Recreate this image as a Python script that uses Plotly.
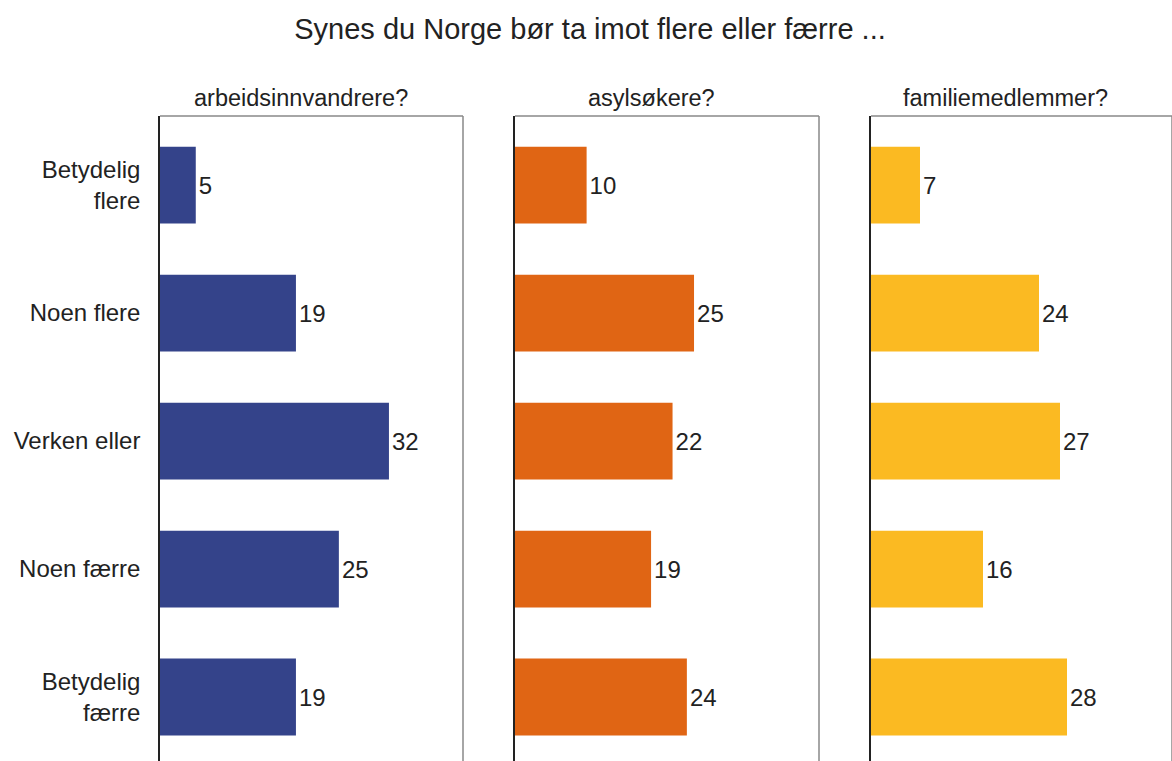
import plotly.graph_objects as go

categories = ["Betydelig<br>flere", "Noen flere", "Verken eller", "Noen færre", "Betydelig<br>færre"]
panel_titles = ["arbeidsinnvandrere?", "asylsøkere?", "familiemedlemmer?"]
arbeid = [5, 19, 32, 25, 19]
asyl = [10, 25, 22, 19, 24]
familie = [7, 24, 27, 16, 28]
series = [arbeid, asyl, familie]
colors = ["#34438A", "#E06514", "#FBBA22"]
title = "Synes du Norge bør ta imot flere eller færre ..."

W, H = 1172, 761
L, T = 160, 116
PW = W - L
domains = [(0, 303 / PW), (355 / PW, 659 / PW), (711 / PW, 1.0)]
xranges = [[0, 42.35], [0, 42.45], [0, 43.0]]
title_centers = [301, 651, 1005]

FONT = "Arial, Liberation Sans, sans-serif"
TXT = "#222222"

fig = go.Figure()
for i, (vals, col) in enumerate(zip(series, colors)):
    sfx = "" if i == 0 else str(i + 1)
    fig.add_trace(go.Bar(
        x=vals, y=categories, orientation="h",
        marker=dict(color=col, line=dict(width=0)),
        width=0.6,
        text=[str(v) for v in vals], textposition="outside",
        textfont=dict(size=24, color=TXT, family=FONT),
        cliponaxis=False,
        xaxis="x" + sfx, yaxis="y" + sfx,
        showlegend=False, hoverinfo="x+y",
    ))

layout = dict(
    width=W, height=H,
    margin=dict(l=L, r=0, t=T, b=0, pad=0),
    plot_bgcolor="white", paper_bgcolor="white",
    font=dict(family=FONT, color=TXT),
    bargap=0.4,
    title=dict(text=title, x=590 / W, xanchor="center", y=1 - 29 / H, yanchor="middle",
               font=dict(size=29, color=TXT, family=FONT)),
)
shapes = []
annotations = []
for i in range(3):
    sfx = "" if i == 0 else str(i + 1)
    layout["xaxis" + sfx] = dict(
        domain=list(domains[i]), range=xranges[i], anchor="y" + sfx,
        showgrid=False, zeroline=False, showticklabels=False, ticks="", showline=False,
        fixedrange=True,
    )
    layout["yaxis" + sfx] = dict(
        domain=[0, 1], anchor="x" + sfx, range=[4.5, -0.54],
        showgrid=False, zeroline=False, ticks="", showline=True, linecolor="#222222", linewidth=1.5,
        showticklabels=(i == 0), tickfont=dict(size=24, color=TXT, family=FONT),
        ticklabelstandoff=13, fixedrange=True,
    )
    xd = "x" + sfx + " domain"
    yd = "y" + sfx + " domain"
    shapes.append(dict(type="line", xref=xd, yref=yd, x0=0, x1=1, y0=1, y1=1,
                       line=dict(color="#888888", width=1.5)))
    shapes.append(dict(type="line", xref=xd, yref=yd, x0=1, x1=1, y0=0, y1=1,
                       line=dict(color="#888888", width=1.5)))
    annotations.append(dict(text=panel_titles[i], xref="paper", yref="paper",
                            x=(title_centers[i] - L) / PW, y=1 + 18 / 645,
                            xanchor="center", yanchor="middle", showarrow=False,
                            font=dict(size=23.5, color=TXT, family=FONT)))
layout["shapes"] = shapes
layout["annotations"] = annotations
fig.update_layout(**layout)
fig.write_html("out.html", config={"displayModeBar": False},
               post_script="document.body.style.margin='0';document.documentElement.style.overflow='hidden';")
